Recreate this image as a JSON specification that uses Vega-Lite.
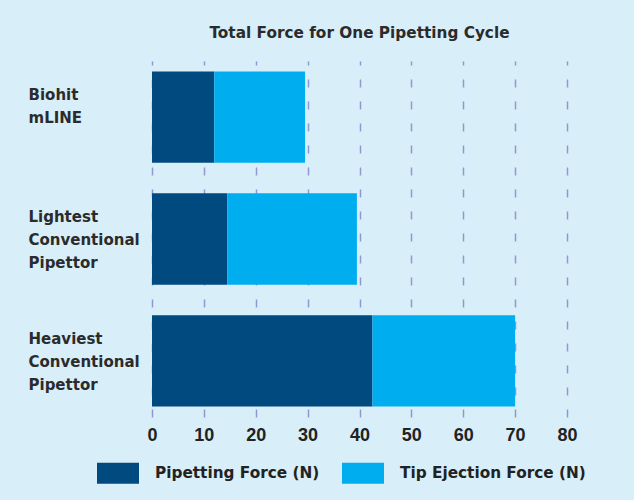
{
  "$schema": "https://vega.github.io/schema/vega-lite/v6.json",
  "autosize": "none",
  "width": 415,
  "height": 356,
  "padding": {"left": 152, "top": 61, "right": 67, "bottom": 83},
  "background": "#d8eef9",
  "title": {
    "text": "Total Force for One Pipetting Cycle",
    "anchor": "middle",
    "offset": 20,
    "font": "DejaVu Sans",
    "fontSize": 15.3,
    "fontWeight": "bold",
    "color": "#2b2b2b"
  },
  "data": {
    "values": [
      {"pipettor": "Biohit|mLINE", "component": "Pipetting Force (N)", "order": 1, "force": 12},
      {"pipettor": "Biohit|mLINE", "component": "Tip Ejection Force (N)", "order": 2, "force": 17.5},
      {"pipettor": "Lightest|Conventional|Pipettor", "component": "Pipetting Force (N)", "order": 1, "force": 14.5},
      {"pipettor": "Lightest|Conventional|Pipettor", "component": "Tip Ejection Force (N)", "order": 2, "force": 25},
      {"pipettor": "Heaviest|Conventional|Pipettor", "component": "Pipetting Force (N)", "order": 1, "force": 42.5},
      {"pipettor": "Heaviest|Conventional|Pipettor", "component": "Tip Ejection Force (N)", "order": 2, "force": 27.5}
    ]
  },
  "mark": {"type": "bar"},
  "encoding": {
    "y": {
      "field": "pipettor",
      "type": "nominal",
      "sort": null,
      "scale": {"paddingInner": 0.25, "paddingOuter": 0.086},
      "axis": {
        "title": null,
        "domain": false,
        "ticks": false,
        "labelExpr": "split(datum.label, '|')",
        "labelAlign": "left",
        "labelPadding": 124,
        "labelOffset": -22,
        "labelFont": "DejaVu Sans",
        "labelFontSize": 15,
        "labelFontWeight": "bold",
        "labelColor": "#2b2b2b",
        "labelLineHeight": 23,
        "labelBaseline": "middle",
        "labelLimit": 200
      }
    },
    "x": {
      "field": "force",
      "type": "quantitative",
      "stack": "zero",
      "scale": {"domain": [0, 80], "nice": false, "zero": true},
      "axis": {
        "title": null,
        "values": [0, 10, 20, 30, 40, 50, 60, 70, 80],
        "domain": false,
        "ticks": false,
        "grid": true,
        "gridColor": "#9496d4",
        "gridDash": [8, 14],
        "gridWidth": 1.5,
        "labelFlush": false,
        "labelPadding": 9,
        "labelFont": "Liberation Sans",
        "labelFontSize": 18,
        "labelFontWeight": "bold",
        "labelColor": "#222222"
      }
    },
    "color": {
      "field": "component",
      "type": "nominal",
      "scale": {
        "domain": ["Pipetting Force (N)", "Tip Ejection Force (N)"],
        "range": ["#004a80", "#00aeef"]
      },
      "legend": {
        "title": null,
        "orient": "none",
        "direction": "horizontal",
        "legendX": -55,
        "legendY": 391,
        "symbolType": "M-1,-0.5H1V0.5H-1Z",
        "symbolSize": 1764,
        "symbolStrokeWidth": 0,
        "symbolOpacity": 1,
        "labelFont": "DejaVu Sans",
        "labelFontSize": 15.3,
        "labelFontWeight": "bold",
        "labelColor": "#222222",
        "labelOffset": 16,
        "columnPadding": 22,
        "labelLimit": 250
      }
    },
    "order": {"field": "order", "type": "quantitative"}
  },
  "config": {
    "view": {"stroke": null}
  }
}
